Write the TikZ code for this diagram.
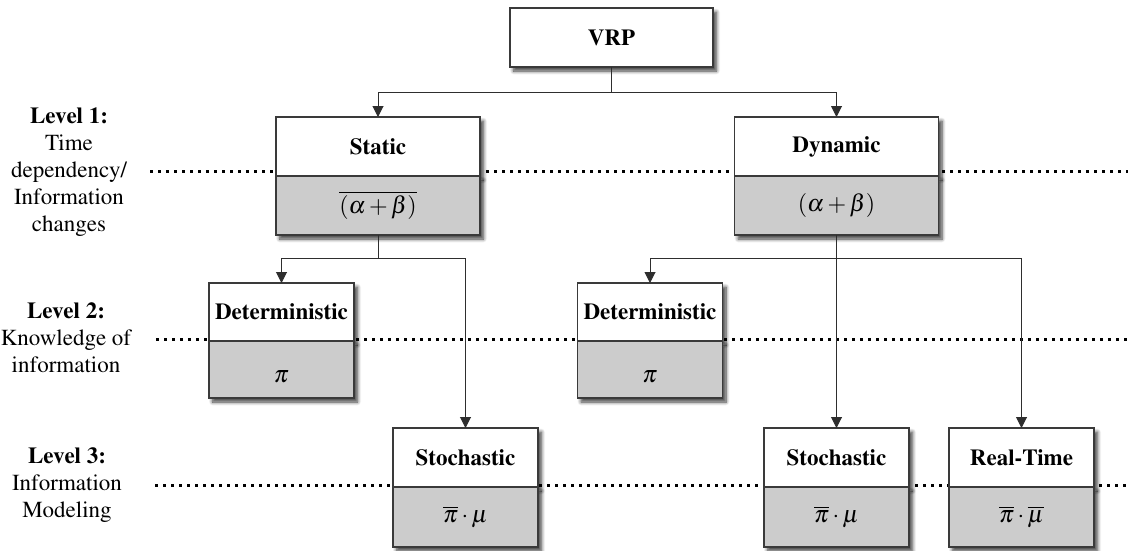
\documentclass[tikz,border=0pt]{standalone}
\usepackage[T1]{fontenc}
\usepackage{mathptmx}
\usetikzlibrary{arrows.meta,shadows.blur}
\definecolor{boxline}{HTML}{3A3A3A}
\definecolor{boxgray}{HTML}{CCCCCC}
\definecolor{connline}{HTML}{2E2E2E}
\tikzset{
  shadowed/.style={blur shadow={shadow xshift=3.5pt,shadow yshift=-4pt,shadow blur radius=3.5pt,shadow blur steps=8,shadow opacity=75}},
  boxtop/.style={shadowed,draw=boxline,fill=white,line width=1.1pt,inner sep=0pt,outer sep=0pt,
    minimum height=59pt,font=\fontsize{23}{27}\selectfont\bfseries},
  boxbot/.style={shadowed,draw=boxline,fill=boxgray,line width=1.1pt,inner sep=0pt,outer sep=0pt,
    minimum height=59pt,anchor=north,font=\fontsize{24}{28}\selectfont},
  lvl/.style={align=center,inner sep=0pt,font=\fontsize{23}{27}\selectfont},
  dotline/.style={line width=3pt,dash pattern=on 3pt off 5pt,black},
  arr/.style={draw=connline,line width=1pt,-{Triangle[length=11pt,width=11pt]}},
  conn/.style={draw=connline,line width=1pt},
}
\begin{document}
\begin{tikzpicture}[x=1pt,y=-1pt]
\useasboundingbox (0,0) rectangle (1128,550);

% level labels
\node[lvl] (lv1) at (69,172) {\textbf{Level 1:}\\Time\\dependency/\\Information\\changes};
\node[lvl] (lv2) at (66,338) {\textbf{Level 2:}\\Knowledge of\\information};
\node[lvl] (lv3) at (67,485) {\textbf{Level 3:}\\Information\\Modeling};

% dotted level separators
\coordinate (d1a) at (150,171);  \coordinate (d1b) at (1128,171);
\coordinate (d2a) at (156,339);  \coordinate (d2b) at (1128,339);
\coordinate (d3a) at (155,485);  \coordinate (d3b) at (1128,485);
\draw[dotline] (d1a) -- (d1b);
\draw[dotline] (d2a) -- (d2b);
\draw[dotline] (d3a) -- (d3b);

% root
\node[boxtop,minimum width=203pt] (vrp) at (611.5,37.5) {VRP};

% level 1
\node[boxtop,minimum width=204pt] (static) at (378,146.5) {Static};
\node[boxbot,minimum width=204pt] (staticf) at (static.south) {$\overline{(\alpha+\beta)}$};
\node[boxtop,minimum width=204pt] (dynamic) at (836.5,146.5) {Dynamic};
\node[boxbot,minimum width=204pt] (dynamicf) at (dynamic.south) {$(\alpha+\beta)$};

% level 2
\node[boxtop,minimum width=145pt,minimum height=58pt] (detl) at (281.5,312) {Deterministic};
\node[boxbot,minimum width=145pt,minimum height=57pt,text height=25pt,text depth=0pt] (detlf) at (detl.south) {$\pi$};
\node[boxtop,minimum width=145pt,minimum height=58pt] (detr) at (650,312) {Deterministic};
\node[boxbot,minimum width=145pt,minimum height=57pt,text height=25pt,text depth=0pt] (detrf) at (detr.south) {$\pi$};

% level 3
\node[boxtop,minimum width=145pt] (stochl) at (465.5,457.5) {Stochastic};
\node[boxbot,minimum width=145pt,minimum height=60pt] (stochlf) at (stochl.south) {$\overline{\pi}\cdot\mu$};
\node[boxtop,minimum width=145pt] (stochr) at (836.5,457.5) {Stochastic};
\node[boxbot,minimum width=145pt,minimum height=60pt] (stochrf) at (stochr.south) {$\overline{\pi}\cdot\mu$};
\node[boxtop,minimum width=145pt] (rt) at (1021.5,457.5) {Real-Time};
\node[boxbot,minimum width=145pt,minimum height=60pt] (rtf) at (rt.south) {$\overline{\pi}\cdot\overline{\mu}$};

% connectors
\coordinate (j1) at (611.5,92);
\coordinate (j2) at (378,258);
\coordinate (j3) at (836.5,258);
\draw[conn] (vrp.south) -- (j1);
\draw[arr] (j1) -| (static.north);
\draw[arr] (j1) -| (dynamic.north);
\draw[conn] (staticf.south) -- (j2);
\draw[arr] (j2) -| (detl.north);
\draw[arr] (j2) -| (stochl.north);
\draw[arr] (dynamicf.south) -- (stochr.north);
\draw[arr] (j3) -| (detr.north);
\draw[arr] (j3) -| (rt.north);
\end{tikzpicture}
\end{document}
